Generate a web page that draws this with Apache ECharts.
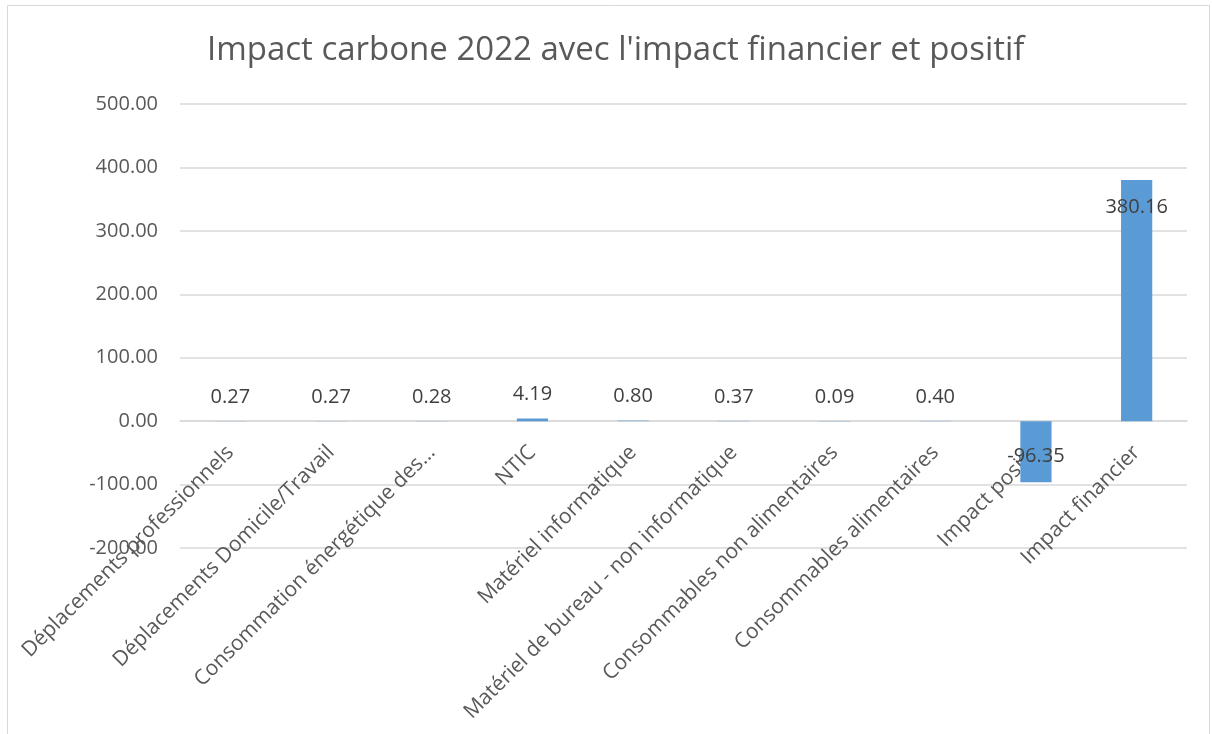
<!DOCTYPE html>
<html>
<head>
<meta charset="utf-8">
<script src="https://cdn.jsdelivr.net/npm/echarts@6/dist/echarts.min.js"></script>
<style>
  html, body { margin: 0; padding: 0; background: #ffffff; }
  #chart { width: 1212px; height: 734px; }
</style>
</head>
<body>
<div id="chart"></div>
<script>
// categories as shown on the axis (the 3rd one is truncated in the original)
const categories = [
  "Déplacements professionnels",
  "Déplacements Domicile/Travail",
  "Consommation énergétique des…",
  "NTIC",
  "Matériel informatique",
  "Matériel de bureau - non informatique",
  "Consommables non alimentaires",
  "Consommables alimentaires",
  "Impact positif",
  "Impact financier",
];
const values = [0.27, 0.27, 0.28, 4.19, 0.8, 0.37, 0.09, 0.4, -96.35, 380.16];
const yTicks = { min: -200, max: 500, interval: 100 };

const font = "'Open Sans', 'Noto Sans', sans-serif";

const gridTop = 104;
const gridBottom = 186;
const gridHeight = 734 - gridTop - gridBottom;
// move the category axis (line + labels) up to the zero line, like Excel
const zeroOffset = -gridHeight * (0 - yTicks.min) / (yTicks.max - yTicks.min);

let seriesData = values.map((v) => {
  let label = { position: "top", distance: 14 };
  if (v < 0) {
    label = { position: "inside", offset: [0, 5] };
  } else if (v > 300) {
    label = { position: "insideTop", distance: 17 };
  }
  return { value: v, label: label };
});

let myChart = echarts.init(document.getElementById("chart"));
let option = {
  backgroundColor: "#ffffff",
  animation: false,
  title: {
    text: "Impact carbone 2022 avec l'impact financier et positif",
    left: 202,
    top: 29,
    textStyle: {
      fontFamily: font,
      fontSize: 33,
      fontWeight: "normal",
      color: "#595959",
    },
  },
  graphic: [
    {
      type: "rect",
      shape: { x: 7.5, y: 5.5, width: 1202, height: 800 },
      style: { fill: "none", stroke: "#d9d9d9", lineWidth: 1 },
      silent: true,
    },
  ],
  grid: {
    left: 180,
    right: 25,
    top: gridTop,
    bottom: gridBottom,
    containLabel: false,
    outerBoundsMode: "none",
  },
  xAxis: {
    type: "category",
    data: categories,
    offset: zeroOffset,
    axisLine: { show: true, onZero: false, lineStyle: { color: "#d9d9d9", width: 1.5 } },
    axisTick: { show: false },
    axisLabel: {
      rotate: 45,
      interval: 0,
      margin: 28,
      fontFamily: font,
      fontSize: 21,
      color: "#595959",
    },
  },
  yAxis: {
    type: "value",
    min: yTicks.min,
    max: yTicks.max,
    interval: yTicks.interval,
    axisLine: { show: false },
    axisTick: { show: false },
    splitLine: { lineStyle: { color: "#d9d9d9", width: 1.5 } },
    axisLabel: {
      margin: 22,
      fontFamily: font,
      fontSize: 20,
      color: "#595959",
      formatter: (v) => v.toFixed(2),
    },
  },
  series: [
    {
      type: "bar",
      data: seriesData,
      barWidth: "31%",
      itemStyle: { color: "#5b9bd5" },
      label: {
        show: true,
        fontFamily: font,
        fontSize: 20,
        color: "#404040",
        formatter: (p) => p.value.toFixed(2),
      },
    },
  ],
};
myChart.setOption(option);
</script>
</body>
</html>
